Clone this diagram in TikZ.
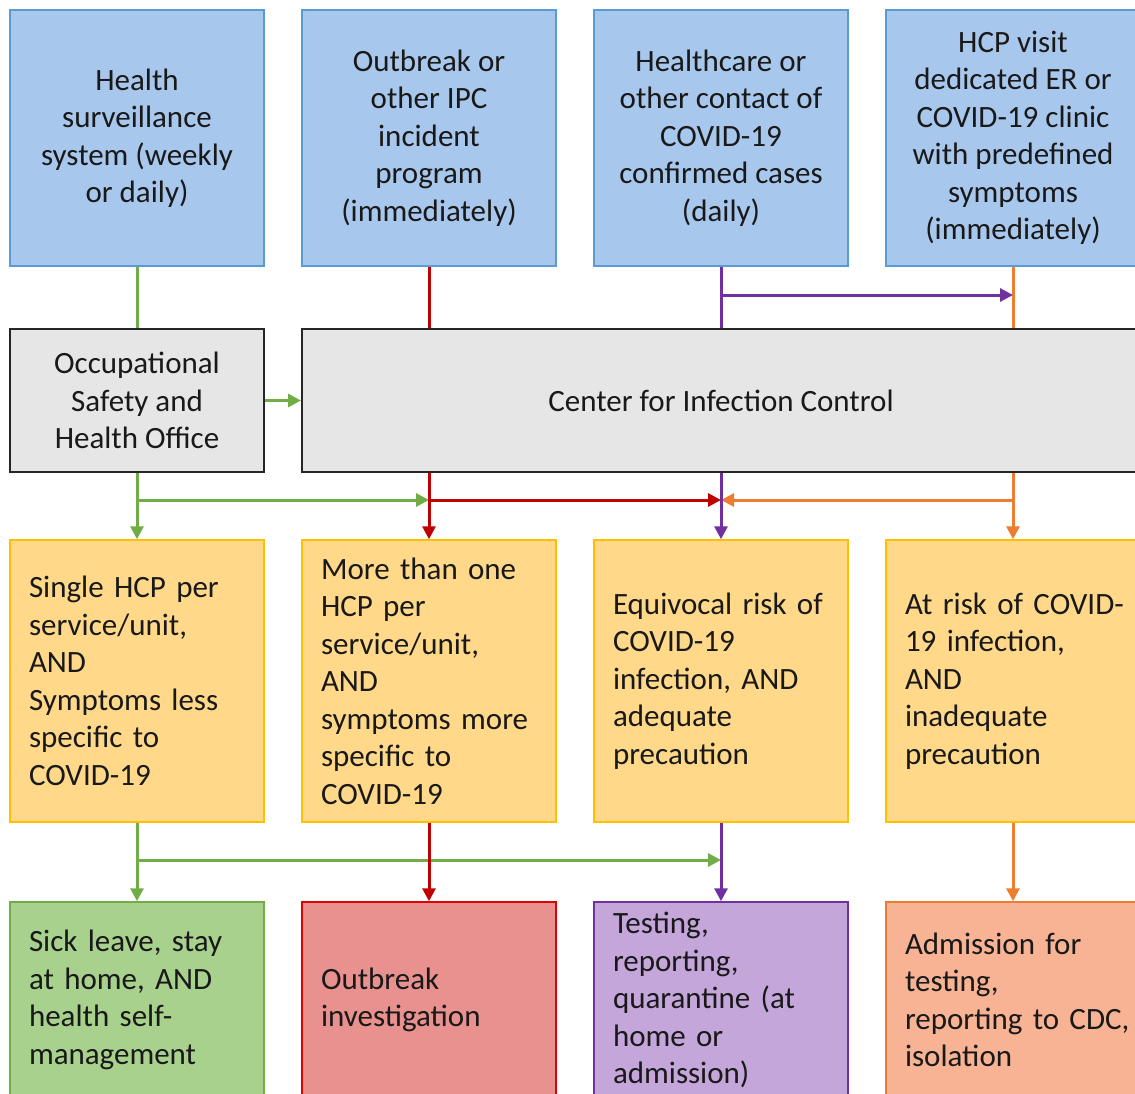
\documentclass[tikz,border=0pt]{standalone}
\usepackage{fontspec}
\setmainfont{Carlito}
\usetikzlibrary{arrows.meta,calc}
\definecolor{bfill}{HTML}{A8C7EC}
\definecolor{bdraw}{HTML}{5B9BD5}
\definecolor{gfill}{HTML}{E6E6E6}
\definecolor{gdraw}{HTML}{262626}
\definecolor{yfill}{HTML}{FFD88A}
\definecolor{ydraw}{HTML}{FFC000}
\definecolor{grfill}{HTML}{A9D18E}
\definecolor{grline}{HTML}{70AD47}
\definecolor{rfill}{HTML}{E8918F}
\definecolor{rline}{HTML}{C00000}
\definecolor{rdraw}{HTML}{E00000}
\definecolor{pfill}{HTML}{C5A6DB}
\definecolor{pline}{HTML}{7030A0}
\definecolor{ofill}{HTML}{F7B394}
\definecolor{oline}{HTML}{ED7D31}
\begin{document}
\begin{tikzpicture}[x=1pt,y=-1pt,
  box/.style={rectangle, minimum width=254pt, inner sep=0pt, font=\fontsize{31}{37.5}\selectfont, text=black!90},
  bluebox/.style={box, fill=bfill, draw=bdraw, line width=1.5pt, minimum height=256pt, align=center},
  graybox/.style={box, fill=gfill, draw=gdraw, line width=2pt, minimum height=143pt, align=center},
  ybox/.style={box, fill=yfill, draw=ydraw, line width=1.5pt, minimum height=282pt, text width=216pt, align=left},
  rbox/.style={box, minimum height=196pt, text width=216pt, align=left, line width=1.5pt},
  conn/.style={line width=3pt},
  arr/.style={conn, -{Triangle[length=13pt,width=13pt]}},
]
\useasboundingbox (0,0) rectangle (1135,1093);
% row 1
\node[bluebox] (b1) at (137,138) {Health\\surveillance\\system (weekly\\or daily)};
\node[bluebox] (b2) at (429,138) {Outbreak or\\other IPC\\incident\\program\\(immediately)};
\node[bluebox] (b3) at (721,138) {Healthcare or\\other contact of\\COVID-19\\confirmed cases\\(daily)};
\node[bluebox] (b4) at (1013,138) {HCP visit\\dedicated ER or\\COVID-19 clinic\\with predefined\\symptoms\\(immediately)};
% row 2
\node[graybox] (osho) at (137,400.5) {Occupational\\Safety and\\Health Office};
\node[graybox, minimum width=838pt] (cic) at (721,400.5) {Center for Infection Control};
% row 3
\node[ybox] (y1) at (137,681) {Single HCP per\\service/unit,\\AND\\Symptoms less\\specific to\\COVID-19};
\node[ybox] (y2) at (429,681) {More than one\\HCP per\\service/unit,\\AND\\symptoms more\\specific to\\COVID-19};
\node[ybox] (y3) at (721,681) {Equivocal~risk~of\\COVID-19\\infection, AND\\adequate\\precaution};
\node[ybox] (y4) at (1013,681) {\mbox{At risk of COVID-}\\19 infection,\\AND\\inadequate\\precaution};
% row 4
\node[rbox, fill=grfill, draw=grline] (z1) at (137,1000) {Sick leave, stay\\at home, AND\\health self-\\management};
\node[rbox, fill=rfill, draw=rdraw] (z2) at (429,1000) {Outbreak\\investigation};
\node[rbox, fill=pfill, draw=pline] (z3) at (721,1000) {Testing,\\reporting,\\quarantine (at\\home or\\admission)};
\node[rbox, fill=ofill, draw=oline] (z4) at (1013,1000) {Admission for\\testing,\\\mbox{reporting to CDC,}\\isolation};
% junction rows
\coordinate (jtop) at (0,295);
\coordinate (jmid) at (0,500);
\coordinate (jbot) at (0,860);
% top connectors
\draw[conn, grline] (b1.south) -- (osho.north);
\draw[arr, grline] (osho.east) -- (cic.west);
\draw[conn, rline] (b2.south) -- (b2.south |- cic.north);
\draw[conn, oline] (b4.south) -- (b4.south |- cic.north);
\draw[conn, pline] (b3.south) -- (b3.south |- cic.north);
\draw[arr, pline] (b3.south |- jtop) -- (b4.south |- jtop);
% middle connectors
\draw[arr, grline] (osho.south) -- (y1.north);
\draw[arr, grline] (osho.south |- jmid) -- (y2.north |- jmid);
\draw[arr, rline] (y2.north |- cic.south) -- (y2.north);
\draw[arr, rline] (y2.north |- jmid) -- (y3.north |- jmid);
\draw[arr, oline] (y4.north |- cic.south) -- (y4.north);
\draw[arr, oline] (y4.north |- jmid) -- (y3.north |- jmid);
\draw[arr, pline] (y3.north |- cic.south) -- (y3.north);
% bottom connectors
\draw[arr, grline] (y1.south) -- (z1.north);
\draw[arr, grline] (y1.south |- jbot) -- (y3.south |- jbot);
\draw[arr, rline] (y2.south) -- (z2.north);
\draw[arr, pline] (y3.south) -- (z3.north);
\draw[arr, oline] (y4.south) -- (z4.north);
\end{tikzpicture}
\end{document}
